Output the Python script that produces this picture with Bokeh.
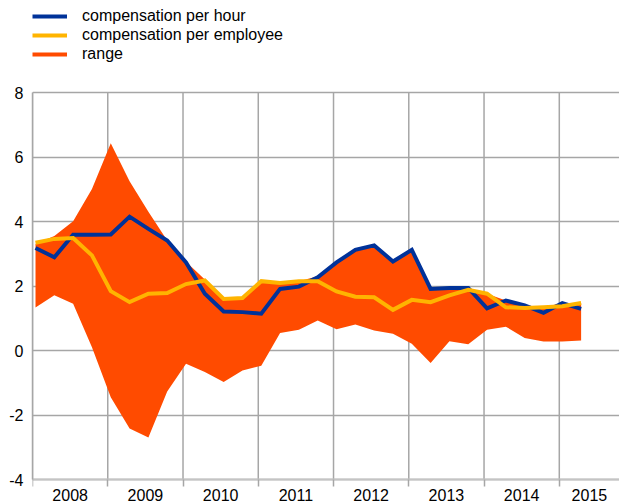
from bokeh.plotting import figure
from bokeh.models import FixedTicker, Range1d, Legend, LegendItem
from bokeh.embed import file_html
from bokeh.resources import INLINE

# ---- data ----
quarters = [
    "2008Q1", "2008Q2", "2008Q3", "2008Q4",
    "2009Q1", "2009Q2", "2009Q3", "2009Q4",
    "2010Q1", "2010Q2", "2010Q3", "2010Q4",
    "2011Q1", "2011Q2", "2011Q3", "2011Q4",
    "2012Q1", "2012Q2", "2012Q3", "2012Q4",
    "2013Q1", "2013Q2", "2013Q3", "2013Q4",
    "2014Q1", "2014Q2", "2014Q3", "2014Q4",
    "2015Q1", "2015Q2",
]
comp_per_hour = [
    3.18, 2.89, 3.59, 3.59,
    3.60, 4.15, 3.77, 3.41,
    2.73, 1.76, 1.21, 1.19,
    1.14, 1.91, 1.98, 2.27,
    2.73, 3.12, 3.26, 2.76,
    3.12, 1.91, 1.94, 1.94,
    1.31, 1.55, 1.40, 1.17,
    1.47, 1.29,
]
comp_per_employee = [
    3.34, 3.46, 3.49, 2.95,
    1.84, 1.50, 1.76, 1.78,
    2.06, 2.17, 1.60, 1.63,
    2.15, 2.09, 2.15, 2.15,
    1.83, 1.67, 1.65, 1.26,
    1.57, 1.50, 1.71, 1.88,
    1.76, 1.34, 1.32, 1.34,
    1.37, 1.47,
]
range_low = [
    1.33, 1.71, 1.45, 0.10,
    -1.45, -2.42, -2.70, -1.27,
    -0.41, -0.67, -0.98, -0.62,
    -0.47, 0.54, 0.64, 0.93,
    0.66, 0.81, 0.62, 0.52,
    0.21, -0.39, 0.29, 0.19,
    0.64, 0.74, 0.39, 0.28,
    0.28, 0.31,
]
range_high = [
    3.30, 3.55, 4.01, 5.01,
    6.43, 5.25, 4.30, 3.41,
    2.75, 2.20, 1.62, 1.63,
    2.15, 2.10, 2.15, 2.30,
    2.75, 3.12, 3.26, 2.76,
    3.12, 1.91, 1.94, 1.94,
    1.76, 1.55, 1.40, 1.34,
    1.47, 1.47,
]
year_labels = ["2008", "2009", "2010", "2011", "2012", "2013", "2014", "2015"]
y_ticks = [-4, -2, 0, 2, 4, 6, 8]
y_tick_labels = ["-4", "-2", "0", "2", "4", "6", "8"]

# ---- layout helpers ----
W, H = 619, 501
FRAME_LEFT, AXIS_TOP_PX, AXIS_BOTTOM_PX = 32, 92, 479   # pixel geometry of the value axis
X_START, X_END = 2008.0, 2015.8
Y_MIN, Y_MAX = y_ticks[0], y_ticks[-1]
px_per_unit = (AXIS_BOTTOM_PX - AXIS_TOP_PX) / (Y_MAX - Y_MIN)
y_lo = Y_MIN - (H - AXIS_BOTTOM_PX) / px_per_unit   # frame spans whole canvas height
y_hi = Y_MAX + AXIS_TOP_PX / px_per_unit

x = [int(q[:4]) + (int(q[-1]) - 1) / 4 + 0.04 for q in quarters]
year_bounds = [int(y) for y in year_labels]
label_pos = [(y + min(y + 1, X_END)) / 2 for y in year_bounds]

BLUE = "#003299"
YELLOW = "#ffb400"
ORANGE = "#ff4b00"
GRID = "#a6a6a6"
FONT = "Liberation Sans"

p = figure(
    width=W, height=H,
    x_range=Range1d(X_START, X_END), y_range=Range1d(y_lo, y_hi),
    output_backend="svg", toolbar_location=None,
    min_border_left=FRAME_LEFT, min_border_right=0,
    min_border_top=0, min_border_bottom=0,
)
p.outline_line_color = None
p.background_fill_color = "white"
p.border_fill_color = "white"

# vertical year grid lines, limited to the value range
p.segment(x0=year_bounds, y0=[Y_MIN] * len(year_bounds),
          x1=year_bounds, y1=[Y_MAX] * len(year_bounds),
          line_color=GRID, line_width=1.5)

# range
p.varea(x=x, y1=range_low, y2=range_high, fill_color=ORANGE, fill_alpha=1.0)
r_hour = p.line(x, comp_per_hour, line_color=BLUE, line_width=4, line_join="miter")
r_emp = p.line(x, comp_per_employee, line_color=YELLOW, line_width=4, line_join="miter")
# legend swatch for the range (a single undefined point: draws nothing in the plot)
r_range_proxy = p.line([X_START], [float("nan")], line_color=ORANGE, line_width=4)

# x axis, pinned at the bottom of the value range
xax = p.xaxis[0]
xax.fixed_location = Y_MIN
xax.ticker = FixedTicker(ticks=label_pos, minor_ticks=year_bounds)
xax.major_label_overrides = {pos: lab for pos, lab in zip(label_pos, year_labels)}
xax.major_tick_line_color = None
xax.major_tick_out = 0
xax.major_tick_in = 0
xax.minor_tick_line_color = GRID
xax.minor_tick_line_width = 1.5
xax.minor_tick_out = 7
xax.minor_tick_in = 0
xax.axis_line_color = "#c4c4c4"
xax.axis_line_width = 2
xax.major_label_standoff = 2
xax.major_label_text_font = FONT
xax.major_label_text_font_size = "16px"
xax.major_label_text_color = "#000000"

# y axis
yax = p.yaxis[0]
yax.ticker = FixedTicker(ticks=y_ticks)
yax.major_label_overrides = {t: lab for t, lab in zip(y_ticks, y_tick_labels)}
yax.bounds = (Y_MIN, Y_MAX)
yax.major_tick_line_color = None
yax.major_tick_out = 0
yax.major_tick_in = 0
yax.minor_tick_line_color = None
yax.axis_line_color = GRID
yax.axis_line_width = 1.5
yax.major_label_standoff = 9
yax.major_label_text_font = FONT
yax.major_label_text_font_size = "16px"
yax.major_label_text_color = "#000000"

# grids
p.xgrid.visible = False
p.ygrid.ticker = FixedTicker(ticks=y_ticks)
p.ygrid.grid_line_color = GRID
p.ygrid.grid_line_width = 1.5

legend = Legend(
    items=[
        LegendItem(label="compensation per hour", renderers=[r_hour]),
        LegendItem(label="compensation per employee", renderers=[r_emp]),
        LegendItem(label="range", renderers=[r_range_proxy]),
    ],
    location=(0, H - 7 - 56),
    orientation="vertical",
    padding=0, margin=0, spacing=1,
    glyph_width=35, glyph_height=18, label_height=18,
    label_standoff=15,
    label_text_font=FONT, label_text_font_size="16px",
    label_text_color="#000000",
    border_line_color=None, background_fill_alpha=0,
)
p.add_layout(legend, "center")

open("out.html", "w").write(file_html(p, INLINE))
